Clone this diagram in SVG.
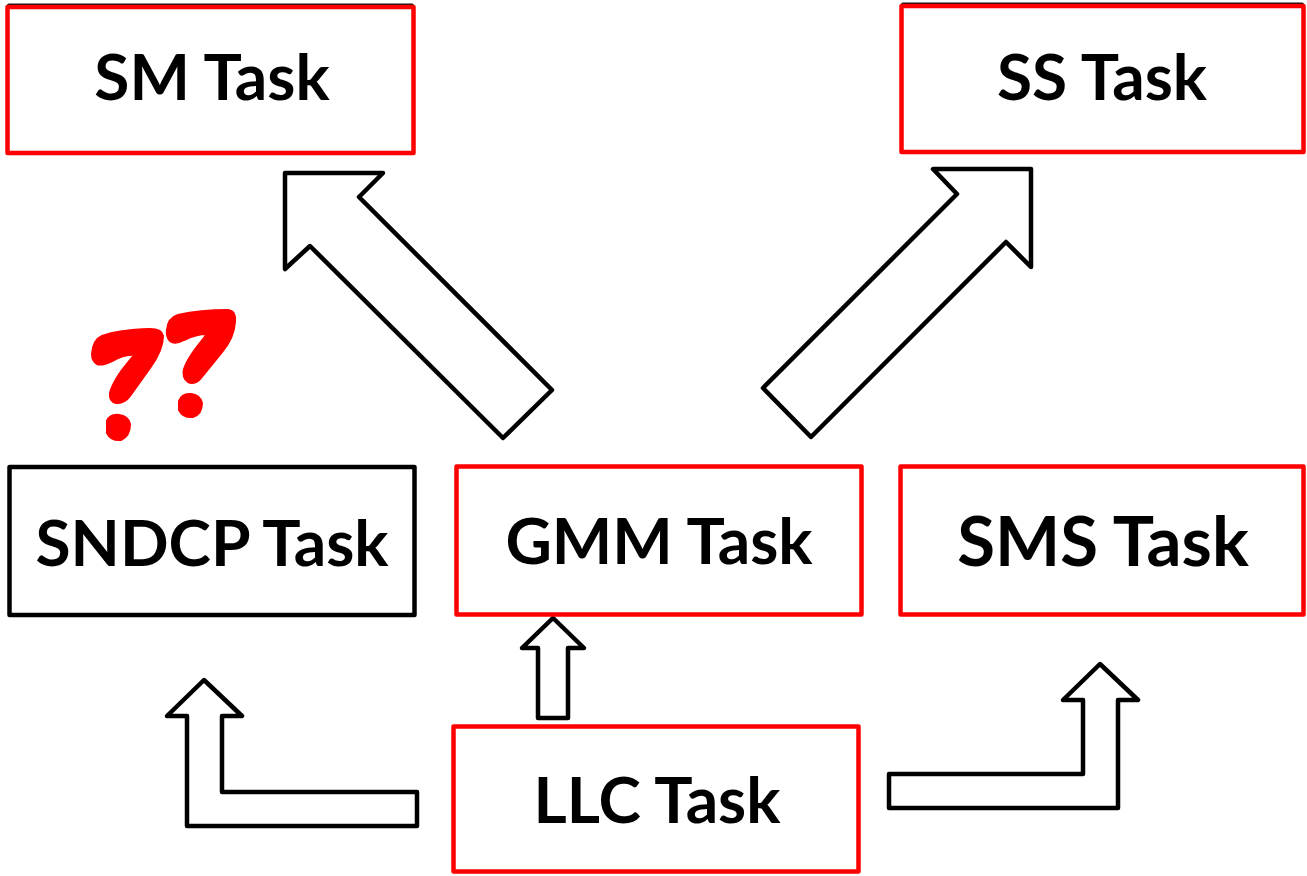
<svg xmlns="http://www.w3.org/2000/svg" width="1307" height="876" viewBox="0 0 1307 876">
<style>
.bx{fill:#fff;stroke:#ff0000;stroke-width:4.5;stroke-linejoin:round}
.sh{fill:none;stroke:#111;stroke-width:4;stroke-linejoin:round}
.bk{fill:#fff;stroke:#000;stroke-width:4.5;stroke-linejoin:round}
.lb{font-family:Lato,"Liberation Sans",sans-serif;font-weight:700;font-size:64px;fill:#000;text-anchor:middle}
.ar{fill:#fff;stroke:#000;stroke-width:4.5;stroke-linejoin:round}
.q{fill:#ff0000;stroke:#ff0000;stroke-width:2;stroke-linejoin:round}
</style>
<rect width="1307" height="876" fill="#fff"/>
<g id="connectors">
<polygon class="ar" points="285,173 383,173 359,197 552,390 503,438 310,246 285,269"/>
<polygon class="ar" points="933,169 1031,169 1031,267 1006,242 811,437 763,388 957,194"/>
<polygon class="ar" points="553,618 584,648 568,648 568,718 538,718 538,648 522,648"/>
<polygon class="ar" points="204,680 242,716 222,716 222,792 417,792 417,826 187,826 187,716 167,716"/>
<polygon class="ar" points="1100,664 1138,700 1118,700 1118,808 889,808 889,774 1083,774 1083,700 1063,700"/>
</g>
<g id="node-sm">
<rect class="sh" x="9" y="5.5" width="403" height="146"/>
<rect class="bx" x="7.5" y="7" width="406" height="146"/>
<text class="lb" x="212" y="100">SM Task</text>
</g>
<g id="node-ss">
<rect class="sh" x="903" y="4.5" width="399" height="146"/>
<rect class="bx" x="901.5" y="6" width="402" height="146"/>
<text class="lb" x="1102" y="100">SS Task</text>
</g>
<g id="node-sndcp">
<rect class="bk" x="9.5" y="467" width="405" height="148"/>
<text class="lb" x="212" y="566">SNDCP Task</text>
</g>
<g id="node-gmm">
<rect class="bx" x="456.5" y="466.5" width="405" height="148"/>
<text class="lb" x="659" y="564">GMM Task</text>
</g>
<g id="node-sms">
<rect class="bx" x="900.5" y="466.5" width="403" height="148"/>
<text class="lb" x="1103" y="566" style="font-size:69px">SMS Task</text>
</g>
<g id="node-llc">
<rect class="bx" x="453.5" y="726.5" width="405" height="145"/>
<text class="lb" x="657" y="823">LLC Task</text>
</g>
<g id="question-marks">
<path class="q" d="M92,354 Q93,340 102,336 Q118,330 150,329 Q162,329 163,336 Q163,350 150,368 L130,396 Q124,404 116,403 Q109,401 110,393 Q112,384 122,370 L134,355 Q125,354 112,361 Q102,366 97,364 Q92,361 92,354 Z"/>
<path class="q" d="M107,421 Q110,414 119,415 Q128,416 130,424 Q130,436 121,440 Q111,441 107,433 Z"/>
<path class="q" d="M167,330 Q168,318 178,315 Q200,310 228,310 Q236,311 235,322 Q234,338 222,352 L200,379 Q194,385 188,382 Q182,378 184,369 Q187,360 196,348 L207,334 Q196,334 184,340 Q175,345 170,341 Q166,337 167,330 Z"/>
<path class="q" d="M179,401 Q182,393 191,394 Q200,395 202,403 Q202,414 193,417 Q183,418 179,410 Z"/>
</g>
</svg>
